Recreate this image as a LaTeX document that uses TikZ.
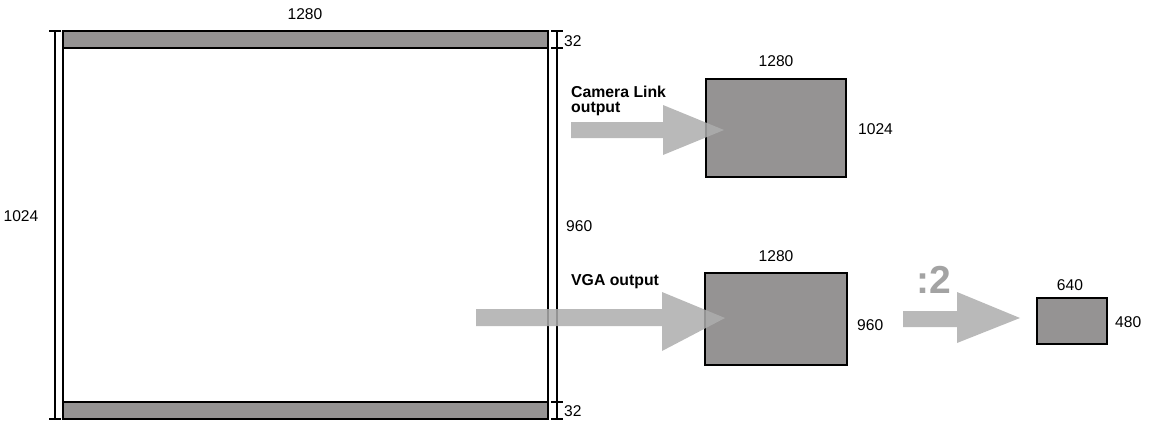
\documentclass[tikz,border=0pt]{standalone}
\usepackage{fontspec}
\setmainfont{Liberation Sans}
\definecolor{boxgray}{HTML}{959393}
\definecolor{arrowgray}{HTML}{ADADAD}
\definecolor{divgray}{HTML}{A3A3A3}
\begin{document}
\begin{tikzpicture}[x=1pt,y=-1pt,
  lbl/.style={inner sep=0pt,font=\fontsize{15.6}{17}\selectfont},
  blbl/.style={inner sep=0pt,font=\fontsize{15.8}{14.5}\selectfont\bfseries,align=left},
  imgbox/.style={draw=black,line width=2pt,fill=boxgray},
  bar/.style={draw=black,line width=2pt,fill=boxgray},
  frame/.style={draw=black,line width=2pt},
  dim/.style={draw=black,line width=1.6pt},
  bigarrow/.style={fill=arrowgray,fill opacity=0.85,draw=none}]
\useasboundingbox (0,0) rectangle (1149,423);
% main frame
\draw[frame] (63,31) rectangle (548,419);
\draw[bar] (63,31) rectangle (548,48);
\draw[bar] (63,402) rectangle (548,419);
% left dimension
\coordinate (lt) at (55,31);
\coordinate (lb) at (55,419);
\draw[dim] (lt) -- (lb);
\draw[dim] ([xshift=-6]lt) -- ([xshift=6]lt);
\draw[dim] ([xshift=-6]lb) -- ([xshift=6]lb);
% right dimensions
\coordinate (r1) at (557,31);
\coordinate (r2) at (557,48);
\coordinate (r3) at (557,402);
\coordinate (r4) at (557,419);
\draw[dim] (r1) -- (r4);
\foreach \c in {r1,r2,r3,r4}
  \draw[dim] ([xshift=-6]\c) -- ([xshift=6]\c);
% labels of main frame
\node[lbl] (t1280) at (305,14) {1280};
\node[lbl] (l1024) at (21,216) {1024};
\node[lbl,anchor=west] (r32a) at (564,41) {32};
\node[lbl,anchor=west] (r32b) at (564,411) {32};
\node[lbl,anchor=west] (r960) at (566,226) {960};
% camera link box
\node[imgbox,minimum width=140,minimum height=98,inner sep=0pt] (cl) at (776,128) {};
\node[lbl] (cl1280) at (776,61) {1280};
\node[lbl,anchor=west] (cl1024) at (858,129) {1024};
\node[blbl,anchor=north west] (cltxt) at (571,86) {Camera Link\\output};
\fill[bigarrow] (571,122) -- (663,122) -- (663,105) -- (724,130) -- (663,155) -- (663,138) -- (571,138) -- cycle;
% VGA box
\node[imgbox,minimum width=142,minimum height=92,inner sep=0pt] (vga) at (776,319) {};
\node[lbl] (v1280) at (776,256) {1280};
\node[lbl,anchor=west] (v960) at (857,325) {960};
\node[blbl,anchor=west] (vgatxt) at (571,282) {VGA output};
\fill[bigarrow] (476,309) -- (662,309) -- (662,292) -- (725,318) -- (662,351) -- (662,326) -- (476,326) -- cycle;
% divided
\fill[bigarrow] (903,311) -- (957,311) -- (957,292) -- (1020,318) -- (957,343) -- (957,327) -- (903,327) -- cycle;
\node[inner sep=0pt,text=divgray,font=\fontsize{39}{40}\selectfont\bfseries] (div) at (934,280) {:2};
\node[imgbox,minimum width=70,minimum height=46,inner sep=0pt] (small) at (1072,321) {};
\node[lbl] (s640) at (1070,285) {640};
\node[lbl,anchor=west] (s480) at (1115,322) {480};
\end{tikzpicture}
\end{document}
